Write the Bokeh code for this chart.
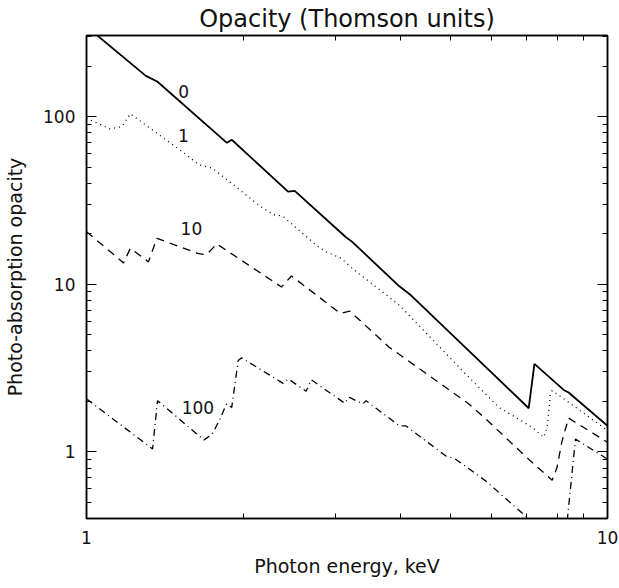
from bokeh.plotting import figure
from bokeh.models import Range1d, LogAxis, FixedTicker, NumeralTickFormatter, Label
from bokeh.embed import file_html
from bokeh.resources import INLINE

# ---- data (photon energy in keV, photo-absorption opacity in Thomson units) ----
energy_0 = [1.0, 1.30, 1.367, 1.86, 1.90, 2.437, 2.51, 3.14, 3.236, 3.985, 4.196,
            7.06, 7.24, 8.24, 8.42, 10.0]
opacity_0 = [345, 175, 162, 69.8, 72.8, 35.7, 36.1, 19.2, 17.9, 9.72, 8.59,
             1.82, 3.35, 2.34, 2.26, 1.43]

energy_1 = [1.0, 1.11, 1.17, 1.214, 1.54, 1.644, 1.744, 2.158, 2.28, 2.38, 2.76,
            2.885, 3.08, 3.24, 3.985, 5.35, 6.19, 7.17, 7.54, 7.66, 7.77, 7.83,
            8.18, 10.0]
opacity_1 = [98, 84.4, 87.5, 104, 60.6, 51.6, 49.3, 29.1, 26.1, 25.5, 17.1,
             15.6, 14.3, 12.4, 7.5, 2.9, 1.84, 1.40, 1.22, 1.40, 2.22, 2.32,
             2.11, 1.34]

energy_10 = [1.0, 1.178, 1.214, 1.315, 1.365, 1.633, 1.69, 1.72, 1.778, 2.367,
             2.474, 3.07, 3.20, 3.81, 5.42, 5.84, 7.17, 7.83, 8.0, 8.18, 8.42, 10.0]
opacity_10 = [20.6, 13.4, 16.4, 13.6, 18.8, 15.3, 15.0, 15.6, 17.4, 9.63,
              11.2, 6.70, 6.92, 4.21, 1.93, 1.57, 0.863, 0.677, 0.805, 1.16, 1.59, 1.14]

energy_100 = [1.0, 1.339, 1.369, 1.681, 1.744, 1.81, 1.85, 1.858, 1.90, 1.955,
              1.985, 2.384, 2.44, 2.64, 2.70, 3.13, 3.19, 3.39, 3.44, 3.985, 4.10,
              4.89, 5.11, 5.84, 6.96, 8.25, 8.68, 10.0]
opacity_100 = [2.07, 1.04, 2.02, 1.175, 1.28, 1.60, 1.89, 1.93, 1.84, 3.51,
               3.64, 2.56, 2.72, 2.30, 2.69, 1.95, 2.12, 1.93, 2.02, 1.43, 1.43,
               0.946, 0.904, 0.67, 0.414, 0.25, 1.19, 0.904]

curve_names = ["0", "1", "10", "100"]
x_ticks = [1, 10]
x_minor = [2, 3, 4, 5, 6, 7, 8, 9]
y_ticks = [1, 10, 100]
y_minor = [0.5, 0.6, 0.7, 0.8, 0.9, 2, 3, 4, 5, 6, 7, 8, 9,
           20, 30, 40, 50, 60, 70, 80, 90, 200, 300]

# label placement (data coordinates)
label_x = [1.537, 1.535, 1.59, 1.636]
label_y = [141, 77.3, 21.5, 1.85]

FONT = "DejaVu Sans"

p = figure(width=619, height=588, x_axis_type="log", y_axis_type="log",
           x_range=Range1d(1, 10), y_range=Range1d(0.40, 305),
           output_backend="svg", toolbar_location=None,
           title="Opacity (Thomson units)",
           min_border_left=86, min_border_right=12, min_border_top=33,
           min_border_bottom=70)
p.title.align = "center"
p.title.text_font = FONT
p.title.text_font_size = "24px"
p.title.text_font_style = "normal"
p.title.text_color = "#111111"
p.title.standoff = 5
p.title.offset = 0

p.xgrid.visible = False
p.ygrid.visible = False
p.outline_line_color = "black"
p.outline_line_width = 1.5
p.background_fill_color = "white"
p.border_fill_color = "white"

p.line(energy_0, opacity_0, line_color="black", line_width=1.8)
p.line(energy_1, opacity_1, line_color="black", line_width=1.3, line_dash="1 4")
p.line(energy_10, opacity_10, line_color="black", line_width=1.3, line_dash="8 6")
p.line(energy_100, opacity_100, line_color="black", line_width=1.3, line_dash="7 4 1 4")

for name, lx, ly in zip(curve_names, label_x, label_y):
    p.add_layout(Label(x=lx, y=ly, text=name, text_align="center",
                       text_baseline="middle", text_font=FONT,
                       text_font_size="17px", text_color="#111111"))

def style(ax, major_in, minor_in, show_labels):
    ax.major_tick_in = major_in
    ax.major_tick_out = 0
    ax.minor_tick_in = minor_in
    ax.minor_tick_out = 0
    ax.axis_line_color = "black"
    ax.axis_line_width = 1.5
    ax.major_tick_line_color = "black"
    ax.minor_tick_line_color = "black"
    ax.major_tick_line_width = 1
    ax.minor_tick_line_width = 1
    ax.formatter = NumeralTickFormatter(format="0")
    if show_labels:
        ax.major_label_text_font = FONT
        ax.major_label_text_font_size = "17px"
        ax.major_label_text_color = "#111111"
        ax.axis_label_text_font = FONT
        ax.axis_label_text_font_size = "19px"
        ax.axis_label_text_font_style = "normal"
        ax.axis_label_text_color = "#111111"
    else:
        ax.major_label_text_font_size = "0px"
        ax.major_label_text_color = None
        ax.major_label_standoff = 0

xb = p.xaxis[0]
xb.ticker = FixedTicker(ticks=x_ticks, minor_ticks=x_minor)
style(xb, 10, 5, True)
xb.axis_label = "Photon energy, keV"
xb.major_label_standoff = 12
xb.axis_label_standoff = 8

yl = p.yaxis[0]
yl.ticker = FixedTicker(ticks=y_ticks, minor_ticks=y_minor)
style(yl, 10, 5, True)
yl.axis_label = "Photo-absorption opacity"
yl.major_label_standoff = 11
yl.axis_label_standoff = 14

xt = LogAxis(ticker=FixedTicker(ticks=x_ticks, minor_ticks=x_minor))
style(xt, 10, 5, False)
p.add_layout(xt, "above")

yr = LogAxis(ticker=FixedTicker(ticks=y_ticks, minor_ticks=y_minor))
style(yr, 10, 5, False)
p.add_layout(yr, "right")

open("out.html", "w").write(file_html(p, INLINE))
